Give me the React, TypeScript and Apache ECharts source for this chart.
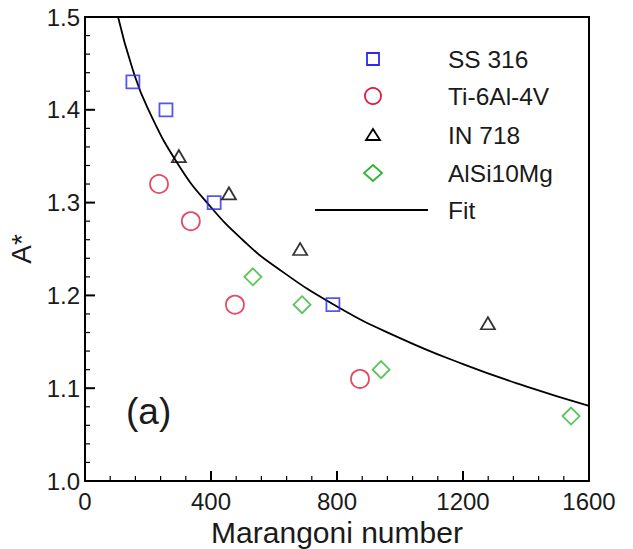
import React, { useEffect, useRef } from "react";
import * as echarts from "echarts";

// Measured data: Marangoni number vs. normalised A*
const ss316X = [152, 257, 410, 787];
const ss316Y = [1.43, 1.4, 1.3, 1.19];

const ti64X = [235, 336, 476, 873];
const ti64Y = [1.32, 1.28, 1.19, 1.11];

const in718X = [298, 457, 683, 1279];
const in718Y = [1.35, 1.31, 1.25, 1.17];

const alsiX = [533, 689, 940, 1543];
const alsiY = [1.22, 1.19, 1.12, 1.07];

// Points along the fitted curve
const fitX = [105, 150, 200, 300, 400, 500, 600, 800, 1000, 1200, 1400, 1600];
const fitY = [1.5, 1.445, 1.401, 1.339, 1.295, 1.26, 1.232, 1.188, 1.154, 1.126, 1.102, 1.081];

const xTicks = [0, 400, 800, 1200, 1600];
const yTicks = [1.0, 1.1, 1.2, 1.3, 1.4, 1.5];
const MINOR_SPLIT = 5;

const legendNames = ["SS 316", "Ti-6Al-4V", "IN 718", "AlSi10Mg", "Fit"];

const FONT = "Liberation Sans, Arial, Helvetica, sans-serif";
const TEXT = "#1a1a1a";
const BLUE = "#2b2bf0";
const RED = "#dc1f3c";
const GREEN = "#2fb52f";

const zip = (xs: number[], ys: number[]) => xs.map((x, i) => [x, ys[i]]);

// minor tick positions between consecutive major ticks
const minorOf = (ticks: number[]) => {
  const out: number[] = [];
  for (let i = 0; i < ticks.length - 1; i++) {
    const step = (ticks[i + 1] - ticks[i]) / MINOR_SPLIT;
    for (let k = 1; k < MINOR_SPLIT; k++) out.push(ticks[i] + k * step);
  }
  return out;
};

export default function App() {
  const ref = useRef<HTMLDivElement>(null);

  useEffect(() => {
    if (!ref.current) return;
    const chart = echarts.init(ref.current, undefined, { renderer: "svg" });

    const xMin = xTicks[0];
    const xMax = xTicks[xTicks.length - 1];
    const yMin = yTicks[0];
    const yMax = yTicks[yTicks.length - 1];

    const hollow = (border: string, width = 1.8) => ({
      color: "rgba(0,0,0,0)",
      borderColor: border,
      borderWidth: width,
    });

    // Inward tick marks, placed through the axis scales
    const tickSeries = (values: number[], dir: "x" | "y", len: number, width: number) => ({
      type: "custom",
      silent: true,
      z: 4,
      data: values.map((v) => [v]),
      encode: dir === "x" ? { x: 0 } : { y: 0 },
      renderItem: (_p: any, api: any) => {
        const v = api.value(0);
        const p = dir === "x" ? api.coord([v, yMin]) : api.coord([xMin, v]);
        const shape =
          dir === "x"
            ? { x1: p[0], y1: p[1], x2: p[0], y2: p[1] - len }
            : { x1: p[0], y1: p[1], x2: p[0] + len, y2: p[1] };
        return { type: "line", shape, style: { stroke: "#000", lineWidth: width } };
      },
    });

    // Legend drawn by hand: marker column, label column
    const lgX = 373;
    const lgTextX = 448;
    const lgRows = [59, 96, 135, 173, 210];
    const stroke = (c: string) => ({ fill: "none", stroke: c, lineWidth: 1.8 });
    const legendMarks: any[] = [
      { type: "rect", shape: { x: lgX - 6, y: lgRows[0] - 6, width: 12, height: 12 }, style: stroke(BLUE) },
      { type: "circle", shape: { cx: lgX, cy: lgRows[1], r: 8 }, style: stroke(RED) },
      {
        type: "polygon",
        shape: { points: [[lgX, lgRows[2] - 6], [lgX + 7, lgRows[2] + 5], [lgX - 7, lgRows[2] + 5]] },
        style: stroke("#000"),
      },
      {
        type: "polygon",
        shape: {
          points: [[lgX, lgRows[3] - 8], [lgX + 9, lgRows[3]], [lgX, lgRows[3] + 8], [lgX - 9, lgRows[3]]],
        },
        style: stroke(GREEN),
      },
      {
        type: "line",
        shape: { x1: 315, y1: lgRows[4], x2: 428, y2: lgRows[4] },
        style: { stroke: "#000", lineWidth: 1.8 },
      },
    ];
    const legendTexts = legendNames.map((n, i) => ({
      type: "text",
      x: lgTextX,
      y: lgRows[i],
      style: {
        text: n,
        fontFamily: FONT,
        fontSize: 24.5,
        fill: TEXT,
        verticalAlign: "middle",
        align: "left",
      },
    }));

    const lineAxis = {
      axisLine: { show: true, onZero: false, lineStyle: { color: "#000", width: 2 } },
      axisTick: { show: false },
      minorTick: { show: false },
      splitLine: { show: false },
    };

    chart.setOption({
      animation: false,
      backgroundColor: "#ffffff",
      grid: { left: 85, right: 44, top: 17, bottom: 68, outerBoundsMode: "none", containLabel: false },
      xAxis: [
        {
          type: "value",
          min: xMin,
          max: xMax,
          interval: 400,
          name: "Marangoni number",
          nameLocation: "middle",
          nameGap: 33,
          nameTextStyle: { fontFamily: FONT, fontSize: 30, color: TEXT },
          ...lineAxis,
          axisLabel: {
            fontFamily: FONT,
            fontSize: 24,
            color: TEXT,
            margin: 8,
            formatter: (v: number) => String(v),
          },
        },
        {
          type: "value",
          position: "top",
          min: xMin,
          max: xMax,
          interval: 400,
          ...lineAxis,
          axisLabel: { show: false },
        },
      ],
      yAxis: [
        {
          type: "value",
          min: yMin,
          max: yMax,
          interval: 0.1,
          name: "A*",
          nameLocation: "middle",
          nameRotate: 90,
          nameGap: 47,
          nameTextStyle: { fontFamily: FONT, fontSize: 28, color: TEXT },
          ...lineAxis,
          axisLabel: {
            fontFamily: FONT,
            fontSize: 24,
            color: TEXT,
            margin: 5,
            formatter: (v: number) => v.toFixed(1),
          },
        },
        {
          type: "value",
          position: "right",
          min: yMin,
          max: yMax,
          interval: 0.1,
          ...lineAxis,
          axisLabel: { show: false },
        },
      ],
      graphic: [
        {
          type: "text",
          left: 126,
          top: 393,
          style: { text: "(a)", fontFamily: FONT, fontSize: 37, fill: TEXT },
        },
        ...legendMarks,
        ...legendTexts,
      ],
      series: [
        tickSeries(xTicks, "x", 10, 2),
        tickSeries(minorOf(xTicks), "x", 5, 1.2),
        tickSeries(yTicks, "y", 10, 2),
        tickSeries(minorOf(yTicks), "y", 5, 1.2),
        {
          name: "Fit",
          type: "line",
          data: zip(fitX, fitY),
          smooth: true,
          symbol: "none",
          lineStyle: { color: "#000", width: 1.8 },
          itemStyle: { color: "#000" },
          z: 1,
        },
        {
          name: "SS 316",
          type: "scatter",
          symbol: "rect",
          symbolSize: 13,
          data: zip(ss316X, ss316Y),
          itemStyle: hollow(BLUE),
          z: 3,
        },
        {
          name: "Ti-6Al-4V",
          type: "scatter",
          symbol: "circle",
          symbolSize: 18,
          data: zip(ti64X, ti64Y),
          itemStyle: hollow(RED),
          z: 3,
        },
        {
          name: "IN 718",
          type: "scatter",
          symbol: "triangle",
          symbolSize: [14, 12],
          data: zip(in718X, in718Y),
          itemStyle: hollow("#000"),
          z: 3,
        },
        {
          name: "AlSi10Mg",
          type: "scatter",
          symbol: "diamond",
          symbolSize: 17,
          data: zip(alsiX, alsiY),
          itemStyle: hollow(GREEN),
          z: 3,
        },
      ],
    });

    return () => chart.dispose();
  }, []);

  return (
    <div
      ref={ref}
      style={{ position: "fixed", left: 0, top: 0, width: 633, height: 549, background: "#fff" }}
    />
  );
}
